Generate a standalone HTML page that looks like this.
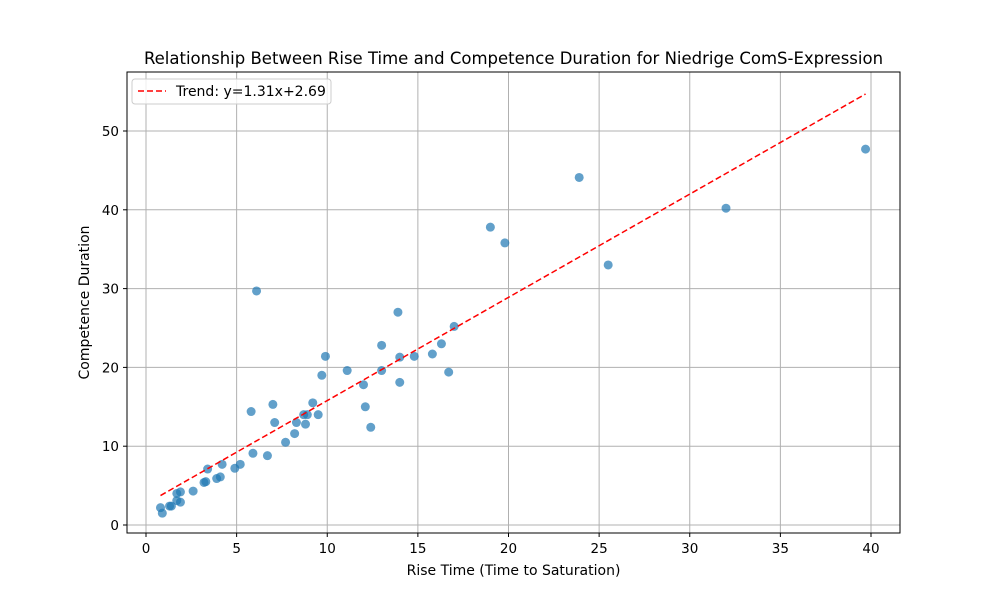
<!DOCTYPE html>
<html><head><meta charset="utf-8"><style>
body{margin:0;background:#fff;font-family:"Liberation Sans","DejaVu Sans",sans-serif}
</style></head><body>
<svg id="chart" width="1000" height="600" xmlns="http://www.w3.org/2000/svg" font-family="DejaVu Sans, Liberation Sans, sans-serif">
<rect width="1000" height="600" fill="#fff"/>
<g id="grid"></g><g id="marks"></g><g id="axes"></g>
</svg>
<script>
const xVals=[0.8,0.9,1.3,1.4,1.7,1.7,1.9,1.9,2.6,3.2,3.3,3.4,3.9,4.1,4.2,4.9,5.2,5.8,5.9,6.1,6.7,7.0,7.1,7.7,8.2,8.3,8.7,8.8,8.9,9.2,9.5,9.7,9.9,11.1,12.0,12.1,12.4,13.0,13.0,13.9,14.0,14.0,14.8,15.8,16.3,16.7,17.0,19.0,19.8,23.9,25.5,32.0,39.7];
const yVals=[2.2,1.5,2.4,2.4,3.1,4.0,4.2,2.9,4.3,5.4,5.5,7.1,5.9,6.1,7.7,7.2,7.7,14.4,9.1,29.7,8.8,15.3,13.0,10.5,11.6,13.0,14.0,12.8,14.0,15.5,14.0,19.0,21.4,19.6,17.8,15.0,12.4,22.8,19.6,27.0,21.3,18.1,21.4,21.7,23.0,19.4,25.2,37.8,35.8,44.1,33.0,40.2,47.7];
const xTicks=[0,5,10,15,20,25,30,35,40];
const yTicks=[0,10,20,30,40,50];
const slope=[1.31], intercept=[2.69];
const L=127,R=900,T=72,B=533;
const sx=v=>146+v*(871-146)/40, sy=v=>525-v*(525-131)/50;
const NS="http://www.w3.org/2000/svg";
function mk(p,tag,a){const e=document.createElementNS(NS,tag);for(const k in a)e.setAttribute(k,a[k]);p.appendChild(e);return e;}
const grid=document.getElementById('grid'),marks=document.getElementById('marks'),axes=document.getElementById('axes');
xTicks.forEach(t=>{const x=sx(t);
 const g=mk(grid,'line',{x1:x,x2:x,y1:T,y2:B,stroke:'#b0b0b0','stroke-width':1});
 
 mk(axes,'line',{x1:x,x2:x,y1:B,y2:B+4,stroke:'#000'});
 const tx=mk(axes,'text',{x:x,y:B+20,'text-anchor':'middle','font-size':13.5});tx.textContent=t;
 });
yTicks.forEach(t=>{const y=sy(t);
 const g=mk(grid,'line',{x1:L,x2:R,y1:y,y2:y,stroke:'#b0b0b0','stroke-width':1});
 
 mk(axes,'line',{x1:L-4,x2:L,y1:y,y2:y,stroke:'#000'});
 const tx=mk(axes,'text',{x:L-8,y:y+5,'text-anchor':'end','font-size':13.5});tx.textContent=t;
 });
xVals.forEach((v,i)=>{const c=mk(marks,'circle',{cx:sx(v),cy:sy(yVals[i]),r:4.5,fill:'#1f77b4','fill-opacity':0.7});
 });
const x0=Math.min(...xVals),x1=Math.max(...xVals);
const tl=mk(marks,'line',{x1:sx(x0),y1:sy(slope[0]*x0+intercept[0]),x2:sx(x1),y2:sy(slope[0]*x1+intercept[0]),stroke:'#ff0000','stroke-width':1.5,'stroke-dasharray':'6,3'});

const fr=mk(axes,'rect',{x:L,y:T,width:R-L,height:B-T,fill:'none',stroke:'#000','stroke-width':1});

const ti=mk(axes,'text',{x:(L+R)/2,y:64,'text-anchor':'middle','font-size':16.5});ti.textContent='Relationship Between Rise Time and Competence Duration for Niedrige ComS-Expression';

const xl=mk(axes,'text',{x:(L+R)/2,y:575,'text-anchor':'middle','font-size':14});xl.textContent='Rise Time (Time to Saturation)';

const yl=mk(axes,'text',{x:89,y:(T+B)/2,'text-anchor':'middle','font-size':14,transform:`rotate(-90 89 ${(T+B)/2})`});yl.textContent='Competence Duration';

const lg=mk(axes,'g',{});

mk(lg,'rect',{x:132,y:79,width:199,height:25,rx:3,fill:'#fff',stroke:'#ccc','fill-opacity':0.8});
mk(lg,'line',{x1:138,x2:166,y1:91,y2:91,stroke:'#ff0000','stroke-width':1.5,'stroke-dasharray':'6,3'});
const lt=mk(lg,'text',{x:176,y:96,'font-size':14});lt.textContent='Trend: y=1.31x+2.69';

</script>
</body></html>
